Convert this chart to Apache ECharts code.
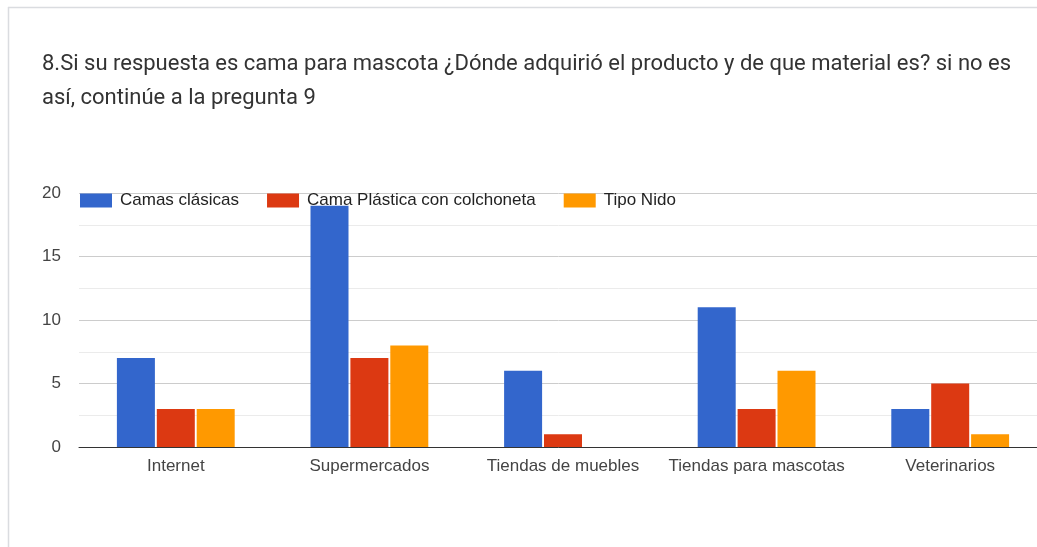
<!DOCTYPE html>
<html>
<head>
<meta charset="utf-8">
<script src="https://cdn.jsdelivr.net/npm/echarts@6/dist/echarts.min.js"></script>
<style>
    html, body { margin: 0; padding: 0; background: #fff; }
    #main { width: 1037px; height: 547px; }
</style>
</head>
<body>
<div id="main"></div>
<script>
    var categories = ['Internet', 'Supermercados', 'Tiendas de muebles', 'Tiendas para mascotas', 'Veterinarios'];
    var seriesNames = ['Camas clásicas', 'Cama Plástica con colchoneta', 'Tipo Nido'];
    var camasClasicas = [7, 19, 6, 11, 3];
    var camaPlastica = [3, 7, 1, 3, 5];
    var tipoNido = [3, 8, 0, 6, 1];
    var colorList = ['#3366cc', '#dc3912', '#ff9900'];

    var myChart = echarts.init(document.getElementById('main'));
    var labelFont = '"Liberation Sans", Arial, sans-serif';

    function bar(name, values) {
        return {
            name: name,
            type: 'bar',
            barWidth: 38,
            barGap: '5%',
            data: values
        };
    }

    var option = {
        animation: false,
        color: colorList,
        title: {
            text: '8.Si su respuesta es cama para mascota ¿Dónde adquirió el producto y de que material es? si no es\nasí, continúe a la pregunta 9',
            left: 37,
            top: 42,
            textStyle: {
                fontFamily: 'Roboto, "Open Sans", sans-serif',
                fontSize: 22,
                fontWeight: 'normal',
                color: '#333',
                lineHeight: 34
            }
        },
        graphic: [
            // card border (top and left edges)
            {type: 'line', shape: {x1: 8, y1: 7.5, x2: 1037, y2: 7.5}, style: {stroke: '#dadce0', lineWidth: 1.5}},
            {type: 'line', shape: {x1: 8.5, y1: 7, x2: 8.5, y2: 547}, style: {stroke: '#dadce0', lineWidth: 1.5}}
        ],
        legend: {
            left: 75,
            top: 187,
            icon: 'rect',
            itemWidth: 32,
            itemHeight: 14,
            itemGap: 28,
            textStyle: {fontFamily: labelFont, fontSize: 17, color: '#222', padding: [0, 0, 0, 3]},
            data: seriesNames
        },
        grid: {
            left: 79,
            top: 193,
            width: 968,
            bottom: 100,
            outerBoundsMode: 'none'
        },
        xAxis: {
            type: 'category',
            data: categories,
            axisTick: {show: false},
            axisLine: {lineStyle: {color: '#333', width: 1}},
            axisLabel: {interval: 0, fontFamily: labelFont, fontSize: 17, color: '#444', margin: 11}
        },
        yAxis: {
            type: 'value',
            min: 0,
            max: 20,
            interval: 5,
            axisLine: {show: false},
            axisTick: {show: false},
            axisLabel: {fontFamily: labelFont, fontSize: 17, color: '#444', margin: 18},
            splitLine: {lineStyle: {color: '#cccccc', width: 1}},
            minorTick: {show: false, splitNumber: 2},
            minorSplitLine: {show: true, lineStyle: {color: '#ebebeb', width: 1}}
        },
        series: [
            bar(seriesNames[0], camasClasicas),
            bar(seriesNames[1], camaPlastica),
            bar(seriesNames[2], tipoNido)
        ]
    };
    myChart.setOption(option);
</script>
</body>
</html>
